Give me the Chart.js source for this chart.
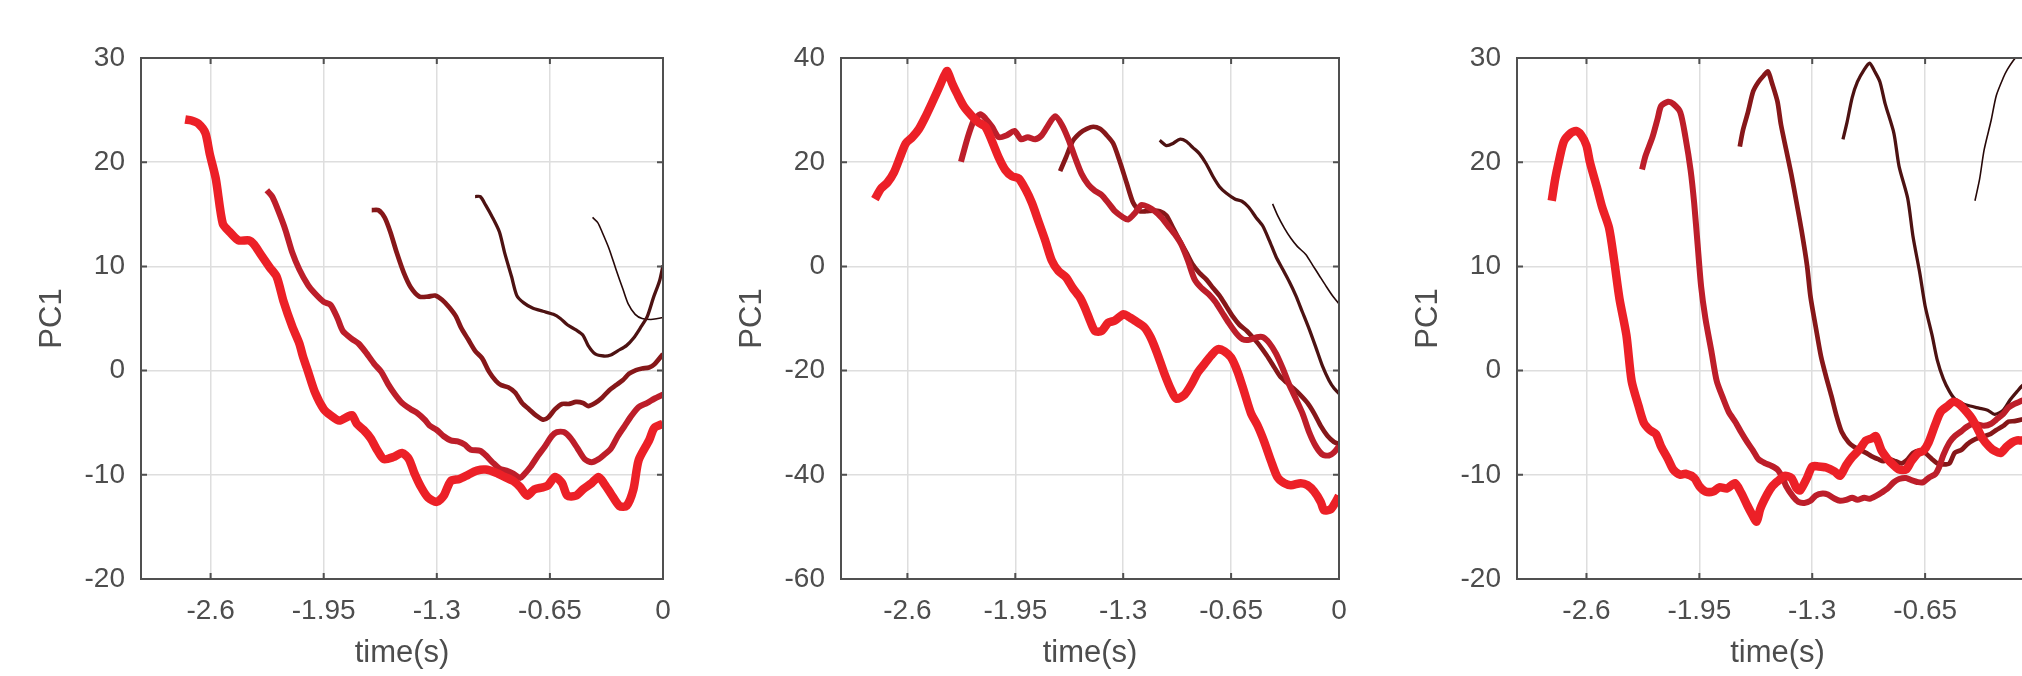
<!DOCTYPE html>
<html>
<head>
<meta charset="utf-8">
<script src="https://cdn.jsdelivr.net/npm/chart.js@4.4.1/dist/chart.umd.min.js"></script>
<style>
  html, body { margin: 0; padding: 0; background: #fff; overflow: hidden; width: 2022px; height: 676px; }
  .panel { position: absolute; top: 0; height: 676px; }
</style>
</head>
<body>
<div class="panel" style="left:0px;width:700px"><canvas id="c1" width="700" height="676"></canvas></div>
<div class="panel" style="left:700px;width:700px"><canvas id="c2" width="700" height="676"></canvas></div>
<div class="panel" style="left:1376px;width:700px"><canvas id="c3" width="700" height="676"></canvas></div>
<script>
// tick positions
var xTicks = [-2.6, -1.95, -1.3, -0.65, 0];
var yRange1 = [-20, 30, 10];
var yRange2 = [-60, 40, 20];
var yRange3 = [-20, 30, 10];

// line styles, thickest (earliest) to thinnest (latest)
var lineColors = ["#ec2027", "#bd1e2a", "#861719", "#4d1212", "#260808"];
var lineWidths = [8.5, 6, 4.7, 3.3, 1.6];

// panel 1 [time, PC1]
var p1a = [[-2.746,24.1],[-2.71,24.0],[-2.67,23.7],[-2.63,22.8],[-2.605,20.8],[-2.57,18.4],[-2.53,14.1],[-2.49,13.3],[-2.44,12.5],[-2.38,12.5],[-2.35,12.1],[-2.31,11.1],[-2.26,9.9],[-2.22,9.0],[-2.18,6.6],[-2.13,4.2],[-2.09,2.6],[-2.07,1.4],[-2.04,-0.1],[-2.0,-2.1],[-1.95,-3.7],[-1.91,-4.3],[-1.86,-4.8],[-1.81,-4.4],[-1.785,-4.3],[-1.76,-5.1],[-1.72,-5.7],[-1.68,-6.5],[-1.64,-7.7],[-1.605,-8.5],[-1.55,-8.3],[-1.5,-7.9],[-1.46,-8.5],[-1.43,-9.8],[-1.39,-11.2],[-1.35,-12.2],[-1.3,-12.6],[-1.26,-12.0],[-1.22,-10.6],[-1.17,-10.4],[-1.12,-10.0],[-1.07,-9.6],[-1.02,-9.5],[-0.96,-9.8],[-0.91,-10.2],[-0.86,-10.6],[-0.82,-11.2],[-0.78,-12.0],[-0.74,-11.4],[-0.69,-11.2],[-0.66,-11.0],[-0.62,-10.2],[-0.58,-10.8],[-0.55,-12.0],[-0.5,-12.0],[-0.46,-11.4],[-0.41,-10.8],[-0.37,-10.2],[-0.34,-10.8],[-0.3,-11.8],[-0.25,-13.0],[-0.21,-13.0],[-0.17,-11.4],[-0.14,-8.6],[-0.08,-6.7],[-0.05,-5.5],[0,-5.1]];
var p1b = [[-2.277,17.3],[-2.246,16.7],[-2.21,15.3],[-2.17,13.5],[-2.13,11.3],[-2.09,9.7],[-2.04,8.2],[-2.0,7.4],[-1.95,6.6],[-1.91,6.3],[-1.87,5.0],[-1.84,3.8],[-1.785,3.0],[-1.75,2.6],[-1.71,1.8],[-1.66,0.65],[-1.62,-0.1],[-1.58,-1.3],[-1.54,-2.3],[-1.5,-3.1],[-1.45,-3.7],[-1.41,-4.1],[-1.37,-4.7],[-1.34,-5.3],[-1.3,-5.7],[-1.26,-6.3],[-1.22,-6.7],[-1.18,-6.8],[-1.14,-7.1],[-1.105,-7.6],[-1.05,-7.7],[-1.02,-8.1],[-0.98,-8.8],[-0.94,-9.4],[-0.9,-9.6],[-0.86,-9.9],[-0.82,-10.3],[-0.8,-10.0],[-0.76,-9.2],[-0.72,-8.2],[-0.68,-7.3],[-0.64,-6.3],[-0.61,-5.9],[-0.57,-5.9],[-0.53,-6.5],[-0.49,-7.5],[-0.45,-8.5],[-0.41,-8.8],[-0.37,-8.5],[-0.34,-8.1],[-0.3,-7.5],[-0.26,-6.3],[-0.22,-5.3],[-0.18,-4.3],[-0.14,-3.5],[-0.09,-3.1],[-0.05,-2.7],[0,-2.3]];
var p1c = [[-1.674,15.4],[-1.636,15.4],[-1.6,14.7],[-1.567,13.3],[-1.53,11.3],[-1.49,9.4],[-1.45,8.0],[-1.4,7.1],[-1.35,7.1],[-1.31,7.2],[-1.27,6.8],[-1.23,6.1],[-1.19,5.2],[-1.16,4.1],[-1.12,3.0],[-1.08,1.9],[-1.04,1.2],[-1.0,-0.1],[-0.96,-1.0],[-0.93,-1.4],[-0.89,-1.6],[-0.85,-2.1],[-0.81,-3.1],[-0.77,-3.7],[-0.73,-4.3],[-0.69,-4.7],[-0.66,-4.5],[-0.62,-3.7],[-0.58,-3.2],[-0.54,-3.2],[-0.5,-3.0],[-0.46,-3.1],[-0.43,-3.4],[-0.39,-3.1],[-0.35,-2.6],[-0.31,-1.9],[-0.27,-1.4],[-0.23,-0.9],[-0.195,-0.3],[-0.155,0.05],[-0.12,0.2],[-0.08,0.3],[-0.05,0.6],[0,1.6]];
var p1d = [[-1.08,16.7],[-1.05,16.7],[-1.02,15.9],[-0.98,14.7],[-0.94,13.3],[-0.91,11.3],[-0.87,9.0],[-0.84,7.2],[-0.8,6.5],[-0.75,6.0],[-0.69,5.7],[-0.63,5.4],[-0.59,5.0],[-0.55,4.4],[-0.5,3.9],[-0.46,3.4],[-0.43,2.4],[-0.39,1.6],[-0.34,1.4],[-0.3,1.5],[-0.26,1.9],[-0.21,2.4],[-0.17,3.1],[-0.13,4.1],[-0.09,5.2],[-0.055,7.0],[-0.02,8.6],[0,10.1]];
var p1e = [[-0.405,14.7],[-0.375,14.2],[-0.35,13.3],[-0.31,11.7],[-0.27,9.7],[-0.23,7.8],[-0.2,6.4],[-0.16,5.4],[-0.12,5.0],[-0.07,4.9],[-0.03,5.0],[0,5.1]];

// panel 2
var p2a = [[-2.796,12.9],[-2.76,14.9],[-2.72,16.1],[-2.68,18.1],[-2.645,20.9],[-2.61,23.6],[-2.57,24.8],[-2.53,26.4],[-2.49,28.8],[-2.45,31.5],[-2.41,34.3],[-2.376,36.7],[-2.36,37.5],[-2.33,35.1],[-2.3,33.1],[-2.26,30.7],[-2.21,28.8],[-2.17,27.6],[-2.13,26.8],[-2.09,24.0],[-2.05,20.9],[-2.01,18.5],[-1.97,17.3],[-1.93,16.9],[-1.89,14.9],[-1.85,12.2],[-1.81,8.6],[-1.77,5.0],[-1.73,1.1],[-1.69,-0.9],[-1.645,-2.1],[-1.605,-4.1],[-1.56,-6.0],[-1.53,-8.0],[-1.5,-10.4],[-1.47,-12.4],[-1.43,-12.4],[-1.39,-10.8],[-1.35,-10.4],[-1.3,-9.2],[-1.27,-9.6],[-1.23,-10.4],[-1.175,-11.6],[-1.135,-13.6],[-1.095,-16.7],[-1.055,-20.3],[-1.01,-23.8],[-0.98,-25.4],[-0.93,-24.6],[-0.89,-22.7],[-0.85,-20.3],[-0.81,-18.7],[-0.77,-17.1],[-0.73,-15.9],[-0.69,-16.3],[-0.65,-17.5],[-0.61,-20.3],[-0.57,-24.2],[-0.53,-28.2],[-0.49,-30.6],[-0.45,-33.7],[-0.41,-37.3],[-0.37,-40.5],[-0.33,-41.6],[-0.29,-42.0],[-0.23,-41.6],[-0.19,-42.0],[-0.15,-43.2],[-0.11,-45.2],[-0.09,-46.8],[-0.05,-46.6],[-0.02,-45.2],[0,-44.0]];
var p2b = [[-2.277,20.1],[-2.24,24.4],[-2.2,28.0],[-2.16,29.2],[-2.13,28.4],[-2.09,26.8],[-2.05,24.8],[-2.0,25.2],[-1.955,26.0],[-1.915,24.4],[-1.875,24.8],[-1.83,24.4],[-1.79,25.2],[-1.75,27.2],[-1.71,28.8],[-1.67,27.2],[-1.63,24.4],[-1.59,20.9],[-1.55,17.7],[-1.51,15.7],[-1.47,14.5],[-1.43,13.7],[-1.39,12.2],[-1.35,10.6],[-1.3,9.4],[-1.27,9.0],[-1.23,10.2],[-1.19,11.8],[-1.15,11.4],[-1.11,10.6],[-1.07,9.4],[-1.03,7.8],[-0.99,6.2],[-0.95,4.2],[-0.91,1.1],[-0.87,-2.5],[-0.83,-4.1],[-0.785,-5.3],[-0.745,-6.8],[-0.705,-8.8],[-0.665,-10.8],[-0.62,-12.8],[-0.58,-14.0],[-0.54,-14.1],[-0.495,-13.6],[-0.457,-13.6],[-0.42,-14.7],[-0.38,-16.7],[-0.34,-19.5],[-0.3,-22.7],[-0.26,-25.4],[-0.22,-28.2],[-0.18,-31.8],[-0.14,-34.5],[-0.1,-36.1],[-0.06,-36.3],[-0.03,-35.7],[0,-34.5]];
var p2c = [[-1.68,18.3],[-1.645,20.9],[-1.605,24.0],[-1.56,25.6],[-1.52,26.4],[-1.48,26.8],[-1.44,26.4],[-1.4,25.2],[-1.36,23.6],[-1.32,20.1],[-1.28,16.1],[-1.24,12.2],[-1.2,10.6],[-1.16,10.6],[-1.12,10.7],[-1.08,10.6],[-1.04,9.8],[-1.0,7.4],[-0.96,5.0],[-0.92,2.7],[-0.88,0.3],[-0.84,-1.3],[-0.8,-2.5],[-0.76,-4.1],[-0.72,-5.6],[-0.68,-7.6],[-0.64,-9.6],[-0.6,-11.2],[-0.555,-12.4],[-0.52,-13.6],[-0.48,-15.1],[-0.435,-17.1],[-0.395,-19.1],[-0.355,-21.1],[-0.315,-22.3],[-0.275,-23.4],[-0.235,-24.6],[-0.19,-26.2],[-0.15,-28.2],[-0.11,-30.6],[-0.07,-32.5],[-0.03,-33.7],[0,-34.1]];
var p2d = [[-1.08,24.2],[-1.04,23.2],[-1.0,23.6],[-0.96,24.4],[-0.92,24.0],[-0.88,22.8],[-0.84,21.6],[-0.8,19.7],[-0.76,17.3],[-0.72,15.3],[-0.68,14.1],[-0.625,12.9],[-0.585,12.5],[-0.545,11.4],[-0.5,9.4],[-0.46,7.8],[-0.42,5.0],[-0.38,1.9],[-0.34,-0.5],[-0.3,-2.9],[-0.26,-5.6],[-0.22,-8.8],[-0.18,-12.0],[-0.14,-15.5],[-0.1,-19.1],[-0.06,-21.9],[-0.03,-23.4],[0,-24.4]];
var p2e = [[-0.4,12.0],[-0.37,9.8],[-0.33,7.4],[-0.29,5.4],[-0.25,3.8],[-0.2,2.3],[-0.16,0.3],[-0.12,-1.7],[-0.08,-3.7],[-0.04,-5.6],[0,-7.2]];

// panel 3 (right edge of this panel is cut off in the picture)
var p3a = [[-2.8,16.3],[-2.78,18.4],[-2.76,20.0],[-2.73,22.0],[-2.69,22.8],[-2.66,23.0],[-2.63,22.6],[-2.6,21.6],[-2.58,20.0],[-2.54,17.6],[-2.51,15.7],[-2.47,13.7],[-2.44,10.5],[-2.41,6.9],[-2.37,3.4],[-2.34,-1.0],[-2.3,-3.4],[-2.27,-5.0],[-2.235,-5.7],[-2.2,-6.1],[-2.17,-7.3],[-2.13,-8.5],[-2.1,-9.5],[-2.06,-10.0],[-2.03,-9.9],[-1.98,-10.3],[-1.95,-11.1],[-1.915,-11.6],[-1.87,-11.6],[-1.835,-11.2],[-1.79,-11.3],[-1.745,-10.8],[-1.71,-11.7],[-1.675,-12.9],[-1.65,-13.7],[-1.62,-14.5],[-1.6,-13.3],[-1.56,-11.9],[-1.53,-11.1],[-1.49,-10.5],[-1.46,-10.1],[-1.42,-10.3],[-1.39,-11.3],[-1.37,-11.5],[-1.33,-10.3],[-1.3,-9.2],[-1.265,-9.2],[-1.22,-9.3],[-1.17,-9.7],[-1.14,-10.1],[-1.105,-9.1],[-1.07,-8.3],[-1.025,-7.5],[-0.99,-6.7],[-0.957,-6.5],[-0.934,-6.3],[-0.9,-7.7],[-0.865,-8.5],[-0.83,-9.1],[-0.8,-9.5],[-0.76,-9.5],[-0.73,-8.7],[-0.69,-7.9],[-0.66,-7.7],[-0.63,-6.9],[-0.59,-5.1],[-0.56,-3.95],[-0.52,-3.4],[-0.49,-3.0],[-0.455,-3.2],[-0.42,-3.8],[-0.385,-4.5],[-0.35,-5.5],[-0.32,-6.5],[-0.28,-7.3],[-0.25,-7.7],[-0.215,-7.9],[-0.18,-7.3],[-0.15,-6.9],[-0.12,-6.7],[-0.094,-6.7],[-0.06,-6.6]];
var p3b = [[-2.28,19.3],[-2.26,20.6],[-2.22,22.4],[-2.19,24.2],[-2.17,25.4],[-2.13,25.8],[-2.1,25.6],[-2.06,24.8],[-2.03,22.4],[-2.0,19.2],[-1.98,16.1],[-1.96,12.1],[-1.94,8.1],[-1.915,5.0],[-1.88,1.8],[-1.85,-1.0],[-1.81,-2.8],[-1.78,-4.0],[-1.74,-5.0],[-1.71,-5.9],[-1.675,-6.85],[-1.64,-7.7],[-1.61,-8.5],[-1.57,-8.9],[-1.54,-9.1],[-1.5,-9.5],[-1.47,-10.3],[-1.45,-11.1],[-1.41,-12.1],[-1.38,-12.6],[-1.345,-12.7],[-1.31,-12.5],[-1.28,-12.0],[-1.24,-11.8],[-1.21,-11.9],[-1.17,-12.3],[-1.14,-12.5],[-1.105,-12.4],[-1.07,-12.2],[-1.04,-12.4],[-1.0,-12.2],[-0.97,-12.3],[-0.93,-12.0],[-0.9,-11.7],[-0.865,-11.3],[-0.83,-10.7],[-0.8,-10.4],[-0.76,-10.3],[-0.73,-10.5],[-0.69,-10.7],[-0.66,-10.7],[-0.63,-10.3],[-0.59,-9.9],[-0.57,-9.3],[-0.545,-8.1],[-0.51,-6.9],[-0.48,-6.3],[-0.44,-5.8],[-0.41,-5.4],[-0.375,-5.1],[-0.34,-5.2],[-0.31,-5.3],[-0.27,-5.1],[-0.24,-4.7],[-0.2,-4.15],[-0.17,-3.55],[-0.135,-3.2],[-0.094,-2.9],[-0.06,-2.6]];
var p3c = [[-1.717,21.5],[-1.7,23.0],[-1.67,24.8],[-1.64,26.8],[-1.61,27.7],[-1.58,28.3],[-1.555,28.7],[-1.53,27.5],[-1.5,25.8],[-1.48,23.6],[-1.45,21.2],[-1.42,18.8],[-1.39,16.1],[-1.36,13.3],[-1.33,10.1],[-1.31,7.1],[-1.28,4.2],[-1.25,1.4],[-1.22,-0.6],[-1.19,-2.4],[-1.16,-4.35],[-1.13,-5.9],[-1.09,-6.9],[-1.06,-7.3],[-1.025,-7.6],[-0.99,-7.9],[-0.96,-8.2],[-0.92,-8.5],[-0.89,-8.7],[-0.855,-8.5],[-0.82,-8.7],[-0.785,-8.9],[-0.75,-8.5],[-0.72,-7.9],[-0.68,-7.7],[-0.65,-7.9],[-0.61,-8.5],[-0.58,-8.9],[-0.545,-9.0],[-0.51,-8.9],[-0.48,-7.9],[-0.44,-7.6],[-0.41,-7.1],[-0.375,-6.7],[-0.34,-6.45],[-0.31,-6.3],[-0.27,-6.05],[-0.24,-5.7],[-0.2,-5.3],[-0.17,-4.9],[-0.135,-4.85],[-0.094,-4.7],[-0.06,-4.5]];
var p3d = [[-1.123,22.2],[-1.1,23.8],[-1.07,26.2],[-1.04,27.7],[-1.0,28.9],[-0.97,29.5],[-0.94,28.7],[-0.91,27.7],[-0.88,25.6],[-0.83,22.8],[-0.8,19.6],[-0.75,16.5],[-0.72,12.9],[-0.68,9.3],[-0.65,6.2],[-0.61,3.4],[-0.58,1.0],[-0.545,-0.8],[-0.51,-2.0],[-0.48,-2.7],[-0.43,-3.2],[-0.39,-3.4],[-0.34,-3.6],[-0.29,-3.8],[-0.25,-4.2],[-0.2,-3.8],[-0.16,-2.8],[-0.12,-2.0],[-0.094,-1.5],[-0.06,-1.0]];
var p3e = [[-0.363,16.3],[-0.336,18.4],[-0.31,21.2],[-0.27,24.0],[-0.24,26.4],[-0.2,28.1],[-0.176,28.9],[-0.14,29.8],[-0.11,30.4],[-0.08,30.6],[-0.05,30.6]];

var axisColor = "#505050";
var textColor = "#4d4d4d";
var fontFamily = "'Liberation Sans', Arial, Helvetica, sans-serif";
var tickSize = 28;
var labelSize = 31;

// MATLAB style box with inward tick marks
var boxPlugin = {
  id: "box",
  afterDraw: function (chart) {
    var a = chart.chartArea;
    var ctx = chart.ctx;
    var xs = chart.scales.x;
    var ys = chart.scales.y;
    ctx.save();
    ctx.strokeStyle = axisColor;
    ctx.lineWidth = 2;
    ctx.strokeRect(a.left, a.top, a.right - a.left, a.bottom - a.top);
    ctx.beginPath();
    xs.ticks.forEach(function (t) {
      var px = xs.getPixelForValue(t.value);
      ctx.moveTo(px, a.bottom);
      ctx.lineTo(px, a.bottom - 6);
      ctx.moveTo(px, a.top);
      ctx.lineTo(px, a.top + 6);
    });
    ys.ticks.forEach(function (t) {
      var py = ys.getPixelForValue(t.value);
      ctx.moveTo(a.left, py);
      ctx.lineTo(a.left + 6, py);
      ctx.moveTo(a.right, py);
      ctx.lineTo(a.right - 6, py);
    });
    ctx.stroke();
    ctx.restore();
  }
};

function makeChart(id, curves, yRange, padRight) {
  var datasets = curves.map(function (c, i) {
    return {
      data: c.map(function (p) { return { x: p[0], y: p[1] }; }),
      borderColor: lineColors[i],
      borderWidth: lineWidths[i],
      pointRadius: 0,
      tension: 0.25,
      borderJoinStyle: "round",
      fill: false
    };
  });
  return new Chart(document.getElementById(id), {
    type: "line",
    data: { datasets: datasets },
    plugins: [boxPlugin],
    options: {
      responsive: false,
      animation: false,
      layout: { padding: { left: 0, top: 58, right: padRight, bottom: 0 } },
      plugins: { legend: { display: false }, tooltip: { enabled: false } },
      scales: {
        x: {
          type: "linear",
          min: -3,
          max: 0,
          afterBuildTicks: function (s) {
            s.ticks = xTicks.map(function (v) { return { value: v }; });
          },
          afterFit: function (s) { s.height = 97; },
          grid: { color: "#dedede", lineWidth: 1.5, drawTicks: false },
          border: { display: false },
          ticks: {
            padding: 15,
            maxRotation: 0,
            autoSkip: false,
            color: textColor,
            font: { family: fontFamily, size: tickSize },
            callback: function (v) { return String(v); }
          },
          title: {
            display: true,
            text: "time(s)",
            color: textColor,
            font: { family: fontFamily, size: labelSize },
            padding: { top: 0, bottom: 4 }
          }
        },
        y: {
          min: yRange[0],
          max: yRange[1],
          afterFit: function (s) { s.width = 141; },
          grid: { color: "#dedede", lineWidth: 1.5, drawTicks: false },
          border: { display: false },
          ticks: {
            stepSize: yRange[2],
            padding: 16,
            color: textColor,
            font: { family: fontFamily, size: tickSize }
          },
          title: {
            display: true,
            text: "PC1",
            color: textColor,
            font: { family: fontFamily, size: labelSize },
            padding: { top: 34, bottom: 0 }
          }
        }
      }
    }
  });
}

makeChart("c1", [p1a, p1b, p1c, p1d, p1e], yRange1, 37);
makeChart("c2", [p2a, p2b, p2c, p2d, p2e], yRange2, 61);
makeChart("c3", [p3a, p3b, p3c, p3d, p3e], yRange3, 38);
</script>
</body>
</html>
